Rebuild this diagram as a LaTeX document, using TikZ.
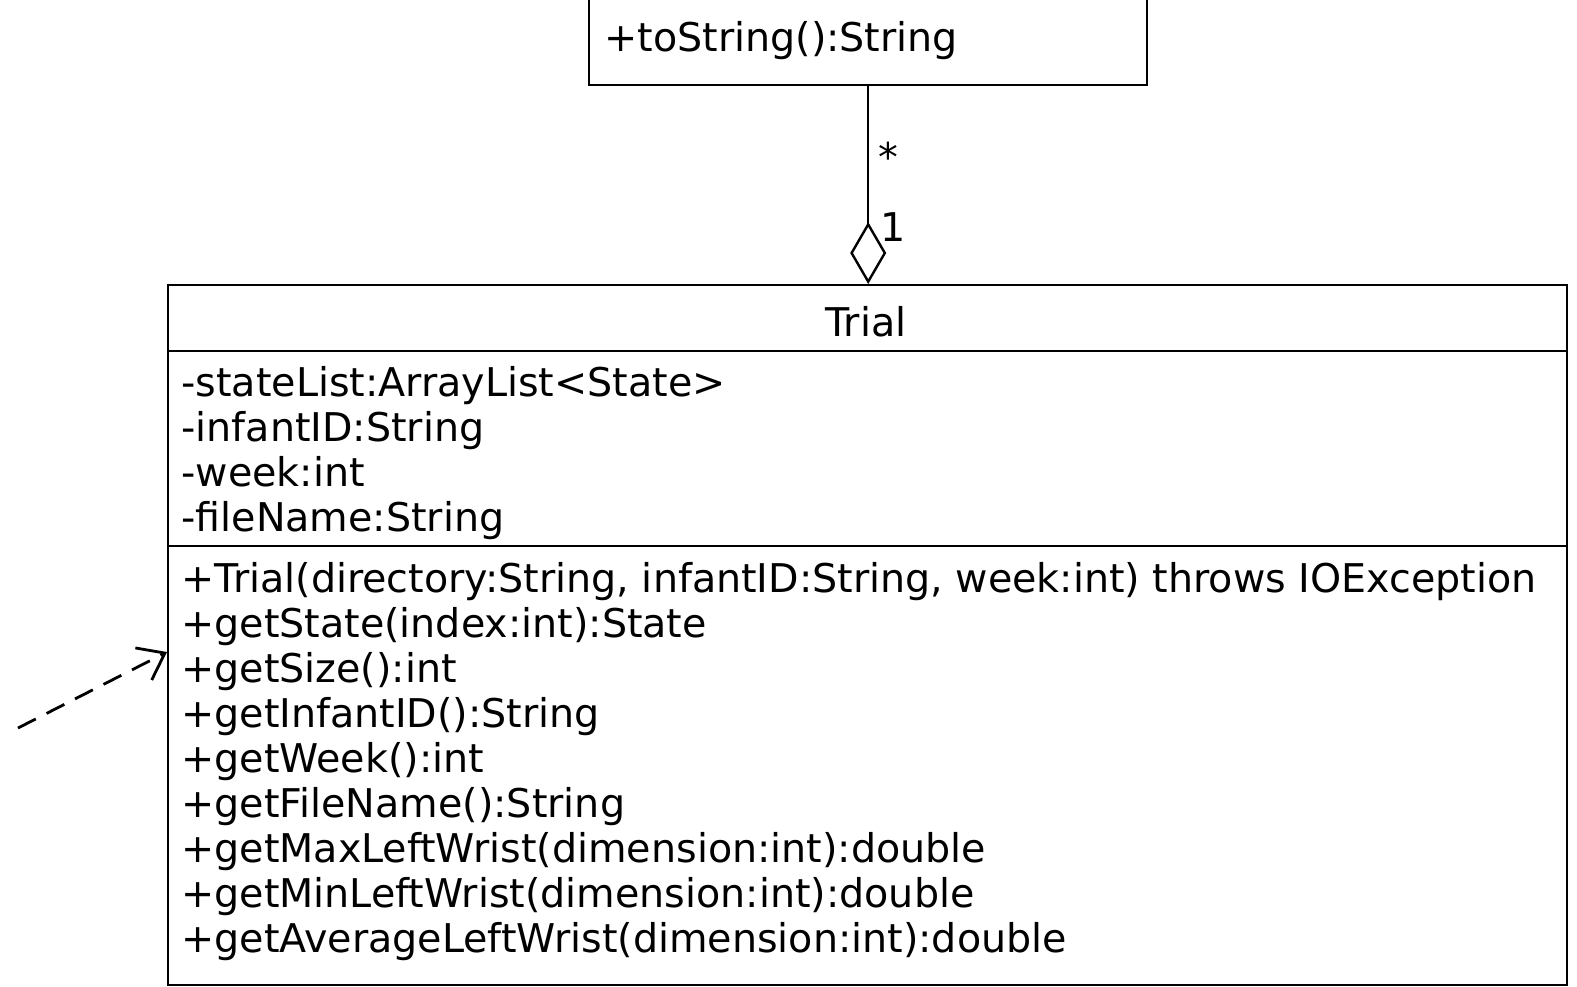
\documentclass[tikz,border=0pt]{standalone}
\usepackage{fontspec}
\setmainfont{DejaVu Sans}
\usetikzlibrary{arrows.meta,positioning}

\tikzset{
  umlfont/.style={font=\fontsize{19.8}{22.5}\selectfont},
  classbox/.style={draw, line width=1.2pt, inner sep=0pt, anchor=north west},
  members/.style={umlfont, anchor=base west, align=left, inner sep=0pt},
}

\begin{document}
\begin{tikzpicture}[x=0.5pt,y=-0.5pt]
  \useasboundingbox (0,0) rectangle (1577,986);
  \clip (0,0) rectangle (1577,986);
  % class cut off at the top
  \node[classbox, minimum width=279pt, minimum height=50pt] (state) at (588,-16) {};
  \node[members] (statemeth) at (604,51) {+toString():String};
  % class Trial
  \node[classbox, minimum width=699.5pt, minimum height=350pt] (trial) at (167,284) {};
  \draw[line width=1.2pt] ([yshift=-33.5pt]trial.north west) -- ([yshift=-33.5pt]trial.north east);
  \draw[line width=1.2pt] ([yshift=-131pt]trial.north west) -- ([yshift=-131pt]trial.north east);
  \node[umlfont] (trialname) at (866,322) {Trial};
  % base of a multi-line node is its last line
  \node[members] (trialattr) at (181,531) {-stateList:ArrayList<State>\\
    -infantID:String\\
    -week:int\\
    -fileName:String};
  \node[members] (trialmeth) at (181,952) {+Trial(directory:String, infantID:String, week:int) throws IOException\\
    +getState(index:int):State\\
    +getSize():int\\
    +getInfantID():String\\
    +getWeek():int\\
    +getFileName():String\\
    +getMaxLeftWrist(dimension:int):double\\
    +getMinLeftWrist(dimension:int):double\\
    +getAverageLeftWrist(dimension:int):double};
  % aggregation
  \draw[line width=1.2pt, -{Diamond[open, length=31pt, width=18pt]}] (state.south) -- (state.south |- trial.north);
  \node[umlfont] (many) at (888,157) {*};
  \node[umlfont] (one) at (893,227) {1};
  % dependency from the left
  \coordinate (depstart) at (18,728);
  \draw[line width=1.4pt, dash pattern=on 10pt off 6pt, -{Straight Barb[length=12pt, width=18pt]}] (depstart) -- ([yshift=-184pt]trial.north west);
\end{tikzpicture}
\end{document}
